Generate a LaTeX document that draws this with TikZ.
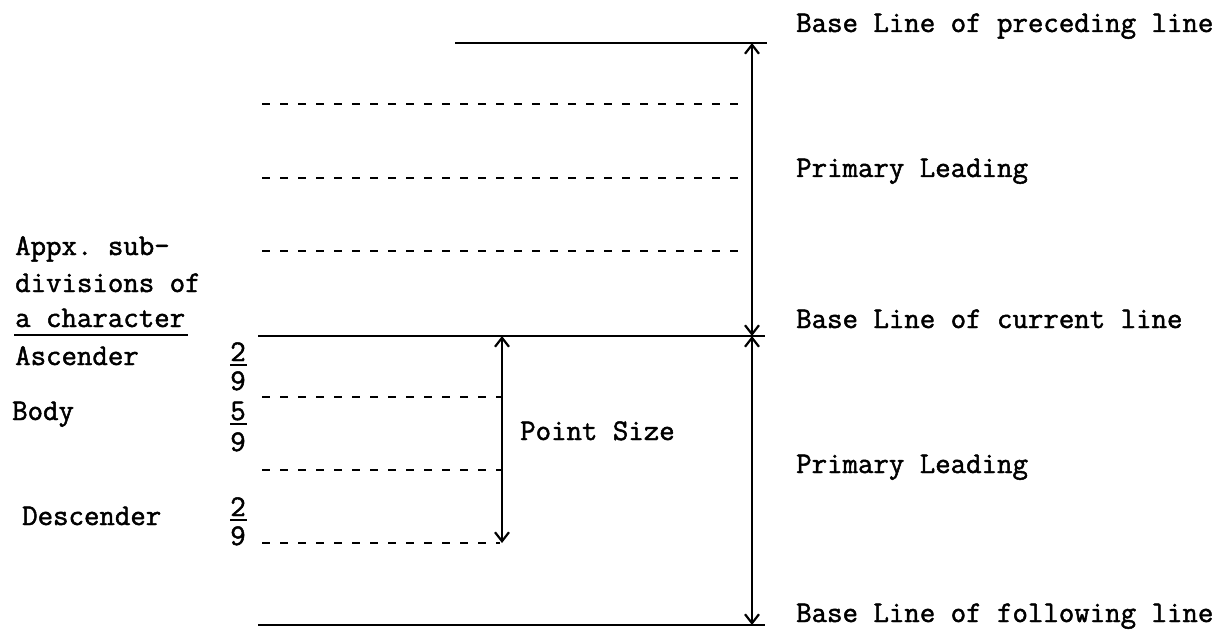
\documentclass[tikz,border=0pt]{standalone}
\usepackage{fontspec}
\setmonofont{Latin Modern Mono}[FakeBold=1.6]
\usetikzlibrary{arrows.meta}

\tikzset{
  lbl/.style={anchor=base west, inner sep=0pt, font=\ttfamily\fontsize{30}{36}\selectfont},
  digit/.style={anchor=base, inner sep=0pt, font=\ttfamily\fontsize{30}{36}\selectfont},
  baseln/.style={line width=2.8pt},
  subln/.style={line width=2.8pt, dash pattern=on 8pt off 10pt},
  fracbar/.style={line width=2.2pt},
  dim/.style={line width=1.9pt, {Straight Barb[length=9pt,width=14pt,line width=2.2pt]}-{Straight Barb[length=9pt,width=14pt,line width=2.2pt]}},
}

\begin{document}
\begin{tikzpicture}[x=1pt, y=-1pt]
\useasboundingbox (0,0) rectangle (1231,631);

% --- horizontal reference lines ---
\coordinate (prevL) at (455,43);   \coordinate (prevR) at (767,43);
\coordinate (curL)  at (258,336);  \coordinate (curR)  at (765,336);
\coordinate (folL)  at (258,625);  \coordinate (folR)  at (765,625);

\draw[baseln] (prevL) -- (prevR);
\draw[baseln] (curL) -- (curR);
\draw[baseln] (folL) -- (folR);

% leading subdivisions
\coordinate (u1L) at (262,104); \coordinate (u1R) at (745,104);
\coordinate (u2L) at (262,178); \coordinate (u2R) at (745,178);
\coordinate (u3L) at (262,251); \coordinate (u3R) at (745,251);
\draw[subln] (u1L) -- (u1R);
\draw[subln] (u2L) -- (u2R);
\draw[subln] (u3L) -- (u3R);

% character subdivisions
\coordinate (c1L) at (262,397); \coordinate (c1R) at (502,397);
\coordinate (c2L) at (262,470); \coordinate (c2R) at (502,470);
\coordinate (c3L) at (262,543); \coordinate (c3R) at (500,543);
\draw[subln] (c1L) -- (c1R);
\draw[subln] (c2L) -- (c2R);
\draw[subln] (c3L) -- (c3R);

% --- dimension arrows ---
\coordinate (leadTop) at (752,43);
\coordinate (leadMid) at (752,336);
\coordinate (leadBot) at (752,625);
\draw[dim] (leadTop) -- (leadMid);
\draw[dim] (leadMid) -- (leadBot);

\coordinate (psTop) at (502,336);
\coordinate (psBot) at (502,543);
\draw[dim] (psTop) -- (psBot);

% --- right-hand labels ---
\node[lbl] (tPrev) at (796,32)  {Base Line of preceding line};
\node[lbl] (tLead1) at (796,177) {Primary Leading};
\node[lbl] (tCur) at (796,328)  {Base Line of current line};
\node[lbl] (tLead2) at (796,473) {Primary Leading};
\node[lbl] (tFol) at (796,622)  {Base Line of following line};
\node[lbl] (tPs) at (520,440)   {Point Size};

% --- left-hand labels ---
\node[lbl] (h1) at (15,255) {Appx. sub-};
\node[lbl] (h2) at (15,292) {divisions of};
\node[lbl] (h3) at (15,327) {a character};
\coordinate (ulL) at (14,335); \coordinate (ulR) at (188,335);
\draw[fracbar] (ulL) -- (ulR);

\node[lbl] (tAsc)  at (15,365) {Ascender};
\node[lbl] (tBody) at (12,420) {Body};
\node[lbl] (tDesc) at (22,525) {Descender};

% --- fractions ---
\node[digit] (fa1) at (238,361) {2};
\node[digit] (fa2) at (238,390) {9};
\coordinate (faL) at (230,365); \coordinate (faR) at (247,365);
\draw[fracbar] (faL) -- (faR);

\node[digit] (fb1) at (238,420) {5};
\node[digit] (fb2) at (238,451) {9};
\coordinate (fbL) at (230,424); \coordinate (fbR) at (247,424);
\draw[fracbar] (fbL) -- (fbR);

\node[digit] (fc1) at (238,516) {2};
\node[digit] (fc2) at (238,545) {9};
\coordinate (fcL) at (230,520); \coordinate (fcR) at (247,520);
\draw[fracbar] (fcL) -- (fcR);
\end{tikzpicture}
\end{document}
